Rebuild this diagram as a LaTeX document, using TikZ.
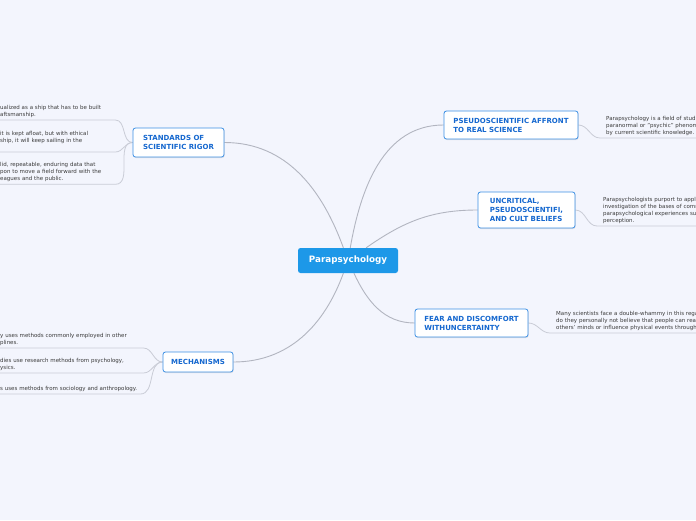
\documentclass[tikz,border=0pt]{standalone}
\usepackage{fontspec}
\setmainfont{DejaVu Sans}
\usepackage{xcolor}
\usetikzlibrary{backgrounds,shadows}

\definecolor{bgpage}{HTML}{F3F5FD}
\definecolor{rootblue}{HTML}{1D98E8}
\definecolor{topicblue}{HTML}{3C8FE4}
\definecolor{topictext}{HTML}{1467CF}
\definecolor{linkgray}{HTML}{B2B5C0}
\definecolor{subgray}{HTML}{C9CCD6}
\definecolor{notetext}{HTML}{3B3B3B}

\begin{document}
\begin{tikzpicture}[
  x=1pt, y=-1pt,
  root/.style={fill=rootblue, rounded corners=2.5pt, text=white, font=\fontsize{8.8}{10}\selectfont\bfseries, minimum width=100pt, minimum height=25pt, inner sep=0pt},
  topic/.style={draw=topicblue, line width=0.8pt, fill=white, rounded corners=2.5pt, text=topictext, font=\fontsize{7}{9}\selectfont\bfseries, align=left, inner sep=0pt, drop shadow={opacity=0.2, shadow xshift=0.6pt, shadow yshift=-1pt}},
  note/.style={text=notetext, font=\fontsize{5.5}{6.9}\selectfont, align=left, inner xsep=0pt, inner ysep=2.5pt, anchor=south west},
  rnote/.style={note, inner xsep=6pt, text width=200pt},
  link/.style={draw=linkgray, line width=0.9pt},
  sub/.style={draw=subgray, line width=0.8pt}
]
\useasboundingbox (0,0) rectangle (696,520);
\clip (0,0) rectangle (696,520);

\node[root] (para) at (348,260.5) {Parapsychology};

\node[topic, minimum width=91pt, minimum height=29pt] (std) at (178.5,142.5) {STANDARDS OF\\SCIENTIFIC RIGOR};
\node[topic, minimum width=70pt, minimum height=20pt] (mech) at (198,362) {MECHANISMS};
\node[topic, minimum width=134pt, minimum height=28pt] (affront) at (511,125) {PSEUDOSCIENTIFIC AFFRONT\\TO REAL SCIENCE};
\node[topic, minimum width=97pt, minimum height=36pt] (cult) at (526.5,210) {UNCRITICAL,\\PSEUDOSCIENTIFI,\\AND CULT BELIEFS};
\node[topic, minimum width=113pt, minimum height=28pt] (fear) at (471.5,323) {FEAR AND DISCOMFORT\\WITHUNCERTAINTY};

\node[note, text width=115pt] (ship) at (0,120) {ualized as a ship that has to be built\\aftsmanship.};
\node[note, text width=115pt] (afloat) at (0,152) {it is kept afloat, but with ethical\\ship, it will keep sailing in the\\\mbox{}};
\node[note, text width=115pt] (data) at (0,184.3) {lid, repeatable, enduring data that\\pon to move a field forward with the\\eagues and the public.};

\node[note, text width=143pt] (other) at (0,348) {y uses methods commonly employed in other\\plines.};
\node[note, text width=143pt] (psych) at (0,373) {dies use research methods from psychology,\\ysics.};
\node[note, text width=140pt] (socio) at (0,394) {s uses methods from sociology and anthropology.};

\node[rnote] (field) at (600,138) {Parapsychology is a field of stud\\paranormal or "psychic" phenom\\by current scientific knowledge.};
\node[rnote] (apply) at (597,226) {Parapsychologists purport to apply\\investigation of the bases of comm\\parapsychological experiences su\\perception.};
\node[rnote] (whammy) at (550,333) {Many scientists face a double-whammy in this rega\\do they personally not believe that people can rea\\others' minds or influence physical events through};

\begin{scope}[on background layer]
\fill[bgpage] (0,0) rectangle (696,520);
\draw[link] (para) to[out=110,in=0] (std.east);
\draw[link] (para) to[out=80,in=180] (affront.west);
\draw[link] (para) to[out=35,in=180] (cult.west);
\draw[link] (para) to[out=-65,in=180] (fear.west);
\draw[link] (para) to[out=-110,in=0] (mech.east);

\draw[sub] (std.west) to[out=180,in=0] (ship.south east) -- (ship.south west);
\draw[sub] (std.west) to[out=180,in=0] (afloat.south east) -- (afloat.south west);
\draw[sub] (std.west) to[out=180,in=0] (data.south east) -- (data.south west);
\draw[sub] (mech.west) to[out=180,in=0] (other.south east) -- (other.south west);
\draw[sub] (mech.west) to[out=180,in=0] (psych.south east) -- (psych.south west);
\draw[sub] (mech.west) to[out=180,in=0] (socio.south east) -- (socio.south west);
\draw[sub] (affront.east) to[out=0,in=180] (field.south west) -- (field.south east);
\draw[sub] (cult.east) to[out=0,in=180] (apply.south west) -- (apply.south east);
\draw[sub] (fear.east) to[out=0,in=180] (whammy.south west) -- (whammy.south east);
\end{scope}
\end{tikzpicture}
\end{document}
